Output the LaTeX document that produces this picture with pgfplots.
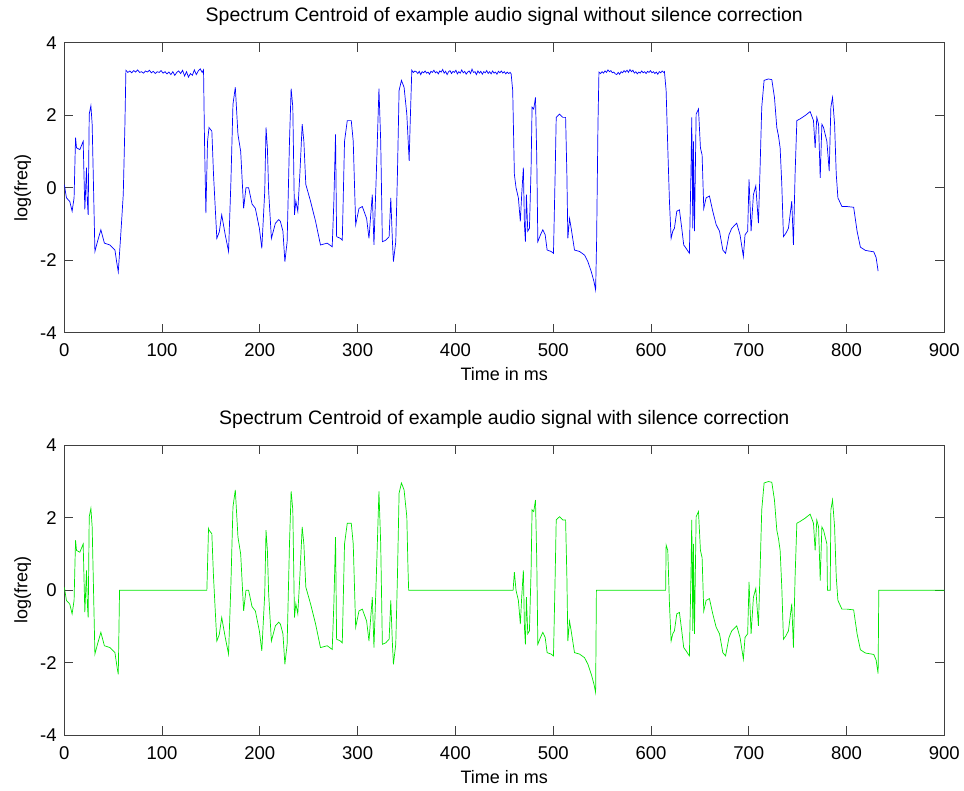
\documentclass[border=0pt]{standalone}
\usepackage{fontspec}
\setmainfont{Liberation Sans}
\usepackage{pgfplots}
\usepackage{pgfplotstable}
\pgfplotsset{compat=1.18}

\pgfplotstableread{
x y
0 0.09
2.2 -0.28
5.6 -0.38
8 -0.65
10 -0.28
11.5 1.38
12.5 1.1
15.9 1.05
19.3 1.28
21 -0.6
22.7 0.55
23.4 -0.28
24.4 -0.75
25.5 2.03
27.2 2.26
28.5 1.75
31.3 -1.76
34 -1.48
37.4 -1.16
41 -1.53
46.7 -1.58
51.8 -1.72
53.5 -2.04
55.2 -2.32
57.3 -1.48
58.6 -0.93
60.3 -0.19
62 1.75
63 3.24
65 3.18
67 3.22
69 3.17
71 3.23
73 3.19
75 3.25
77 3.18
79 3.2
81 3.16
83 3.22
85 3.19
87 3.24
89 3.17
91 3.21
93 3.15
95 3.2
97 3.18
99 3.23
101 3.16
103 3.2
105 3.14
107 3.19
109 3.12
111 3.2
113 3.1
115 3.18
117 3.22
119 3.15
121 3.24
123 3.08
125 3.2
127 3.05
129 3.15
131 3.1
133 3.25
135 3.12
137 3.22
139 3.28
141 3.18
142.4 3.25
143.4 1.28
144.8 -0.7
146.5 1.28
148 1.66
150.9 1.56
152.6 0.37
156 -1.4
158.5 -1.22
161 -0.75
164.6 -1.3
168 -1.76
170.4 0.17
172.5 2.3
174.9 2.77
177.6 1.47
180.4 1.0
183.4 -0.57
185.8 0
188.5 0
192 -0.45
195.4 -0.57
199.5 -1.12
202 -1.67
205 -0.1
206.3 1.66
207.7 1.1
209 -0.1
211.8 -1.4
215.9 -0.98
219.3 -0.88
221 -0.93
223.6 -1.2
225.6 -2.04
227.9 -1.49
230.3 1.28
232 2.73
233.7 2.22
235.4 -0.75
236.8 -0.37
238.8 -0.65
240.9 0.37
243.3 1.75
245 1.28
247 0.09
251.8 -0.37
257 -0.93
262 -1.58
268.9 -1.53
274 -1.63
275.7 -0.37
277.4 1.47
278.5 -1.35
282.5 -1.4
284.3 -1.45
286.6 1.28
289.4 1.85
293.5 1.85
295.5 1.28
298 -1.02
301.4 -0.57
304.8 -0.52
309.2 -0.85
311.6 -1.4
313.4 -0.75
315 -0.19
316.7 -1.58
319.1 0.37
321.8 2.73
323.6 1.28
325.3 -1.49
328.7 -1.45
332.2 -1.35
333.9 -0.28
335.6 -1.49
336.6 -2.04
339 -1.49
340.7 0.37
342.4 2.68
344.8 2.96
347.5 2.77
350.3 2.03
352.7 0.74
353.7 1.75
355.4 3.24
357 3.18
358.5 3.22
360 3.2
361.5 3.15
363 3.21
364.5 3.12
366 3.2
367.5 3.17
369 3.22
370.5 3.16
372 3.19
373.5 3.13
375 3.21
376.5 3.18
378 3.24
379.5 3.17
381 3.2
382.5 3.14
384 3.22
385.5 3.19
387 3.26
388.5 3.16
390 3.21
391.5 3.12
393 3.2
394.5 3.23
396 3.15
397.5 3.21
399 3.18
400.5 3.24
402 3.14
403.5 3.2
405 3.16
406.5 3.25
408 3.17
409.5 3.21
411 3.13
412.5 3.19
414 3.22
415.5 3.15
417 3.27
418.5 3.18
420 3.2
421.5 3.12
423 3.22
424.5 3.16
426 3.21
427.5 3.13
429 3.2
430.5 3.17
432 3.23
433.5 3.15
435 3.2
436.5 3.14
438 3.22
439.5 3.16
441 3.19
442.5 3.13
444 3.21
445.5 3.17
447 3.22
448.5 3.16
450 3.2
451.5 3.14
453 3.19
454.5 3.15
456 3.18
457 3.14
458.6 2.68
460.3 0.37
462 0
464.4 -0.28
466.4 -0.93
467.8 -0.19
469.5 0.55
470.6 -1.02
471.6 -1.49
472.6 -0.19
474 -1.2
475.7 -1.12
477.4 0.55
478.4 2.22
480.1 2.17
481.9 2.49
483.2 0.83
484.3 -1.49
487 -1.3
489.4 -1.16
491.8 -1.3
493.8 -1.72
497.9 -1.76
500.3 -1.81
502 0.37
503.1 1.94
506.5 2.03
509.9 1.94
512.7 1.94
514 0.37
515 -1.4
516.7 -0.85
518.4 -1.12
521.8 -1.72
527 -1.76
532.1 -1.86
535.5 -2.04
539 -2.32
541.7 -2.59
543.4 -2.82
544.4 -1.49
545.8 1.75
546.8 3.19
548.5 3.15
550 3.2
551.5 3.16
553 3.22
554.5 3.18
556 3.25
557.5 3.2
559 3.23
560.5 3.17
562 3.19
563.5 3.14
565 3.12
566.5 3.18
568 3.13
569.5 3.2
571 3.17
572.5 3.23
574 3.19
575.5 3.24
577 3.18
578.5 3.26
580 3.2
581.5 3.24
583 3.16
584.5 3.2
586 3.14
587.5 3.19
589 3.16
590.5 3.22
592 3.17
593.5 3.2
595 3.15
596.5 3.21
598 3.18
599.5 3.23
601 3.17
602.5 3.2
604 3.15
605.5 3.19
607 3.13
608.5 3.2
610 3.17
611.5 3.22
613 3.18
613.8 3.2
615.5 2.68
617.2 1.1
618.9 -0.37
620.6 -1.4
622.3 -1.2
624 -1.12
626.4 -0.65
629.1 -0.61
631.5 -1.12
633.5 -1.58
635.9 -1.67
639.3 -1.81
641 0.55
641.7 1.94
642.8 -1.12
643.4 1.28
644.5 -1.2
646.2 2.03
648.6 2.17
650.6 1.1
652.3 0.9
654 -0.57
656.4 -0.28
659.8 -0.23
663.2 -0.65
666.7 -1.02
670.1 -1.2
673.5 -1.72
676.3 -1.81
679.8 -1.3
682.6 -1.12
687.7 -0.98
691.1 -1.3
694.5 -1.9
696.2 -1.3
698.9 -1.2
700.3 0.23
702.4 -1.2
704.8 -0.19
707.2 0.05
709.9 -0.98
711.6 0.55
713.3 2.22
715.7 2.96
720.1 3.0
723.6 2.98
726.3 2.49
728.7 1.66
730.4 1.43
732.1 1.1
733.8 0.09
735.5 -1.35
737.9 -1.26
740.6 -1.12
744 -0.37
745.7 -1.58
747.4 0.37
749.2 1.85
752.6 1.9
757.7 1.99
762.8 2.1
766.2 1.85
767.9 1.1
769.6 1.94
771.4 1.75
773.1 0.27
774.8 1.75
776.5 1.66
779.9 1.28
782.3 0.46
784 2.22
785.7 2.49
787.8 1.75
789.5 0.37
791.2 -0.28
795.3 -0.52
800.5 -0.52
807.3 -0.54
810.8 -1.2
814.2 -1.64
819.3 -1.73
827.9 -1.77
830.3 -1.93
832.3 -2.3
}\topdata

\pgfplotstableread{
x y
0 0.09
2.2 -0.28
5.6 -0.38
8 -0.65
10 -0.28
11.5 1.38
12.5 1.1
15.9 1.05
19.3 1.28
21 -0.6
22.7 0.55
23.4 -0.28
24.4 -0.75
25.5 2.03
27.2 2.26
28.5 1.75
31.3 -1.76
34 -1.48
37.4 -1.16
41 -1.53
46.7 -1.58
51.8 -1.72
53.5 -2.04
55.2 -2.32
56.5 0
145.8 0
147.5 1.7
148 1.66
150.9 1.56
152.6 0.37
156 -1.4
158.5 -1.22
161 -0.75
164.6 -1.3
168 -1.76
170.4 0.17
172.5 2.3
174.9 2.77
177.6 1.47
180.4 1.0
183.4 -0.57
185.8 0
188.5 0
192 -0.45
195.4 -0.57
199.5 -1.12
202 -1.67
205 -0.1
206.3 1.66
207.7 1.1
209 -0.1
211.8 -1.4
215.9 -0.98
219.3 -0.88
221 -0.93
223.6 -1.2
225.6 -2.04
227.9 -1.49
230.3 1.28
232 2.73
233.7 2.22
235.4 -0.75
236.8 -0.37
238.8 -0.65
240.9 0.37
243.3 1.75
245 1.28
247 0.09
251.8 -0.37
257 -0.93
262 -1.58
268.9 -1.53
274 -1.63
275.7 -0.37
277.4 1.47
278.5 -1.35
282.5 -1.4
284.3 -1.45
286.6 1.28
289.4 1.85
293.5 1.85
295.5 1.28
298 -1.02
301.4 -0.57
304.8 -0.52
309.2 -0.85
311.6 -1.4
313.4 -0.75
315 -0.19
316.7 -1.58
319.1 0.37
321.8 2.73
323.6 1.28
325.3 -1.49
328.7 -1.45
332.2 -1.35
333.9 -0.28
335.6 -1.49
336.6 -2.04
339 -1.49
340.7 0.37
342.4 2.68
344.8 2.96
347.5 2.77
350.3 2.03
351.5 0.6
352.2 0
459 0
460.3 0.5
462 0
464.4 -0.28
466.4 -0.93
467.8 -0.19
469.5 0.55
470.6 -1.02
471.6 -1.49
472.6 -0.19
474 -1.2
475.7 -1.12
477.4 0.55
478.4 2.22
480.1 2.17
481.9 2.49
483.2 0.83
484.3 -1.49
487 -1.3
489.4 -1.16
491.8 -1.3
493.8 -1.72
497.9 -1.76
500.3 -1.81
502 0.37
503.1 1.94
506.5 2.03
509.9 1.94
512.7 1.94
514 0.37
515 -1.4
516.7 -0.85
518.4 -1.12
521.8 -1.72
527 -1.76
532.1 -1.86
535.5 -2.04
539 -2.32
541.7 -2.59
543.4 -2.82
544.2 0
615 0
615.5 1.25
617.2 1.1
618.9 -0.37
620.6 -1.4
622.3 -1.2
624 -1.12
626.4 -0.65
629.1 -0.61
631.5 -1.12
633.5 -1.58
635.9 -1.67
639.3 -1.81
641 0.55
641.7 1.94
642.8 -1.12
643.4 1.28
644.5 -1.2
646.2 2.03
648.6 2.17
650.6 1.1
652.3 0.9
654 -0.57
656.4 -0.28
659.8 -0.23
663.2 -0.65
666.7 -1.02
670.1 -1.2
673.5 -1.72
676.3 -1.81
679.8 -1.3
682.6 -1.12
687.7 -0.98
691.1 -1.3
694.5 -1.9
696.2 -1.3
698.9 -1.2
700.3 0.23
702.4 -1.2
704.8 -0.19
707.2 0.05
709.9 -0.98
711.6 0.55
713.3 2.22
715.7 2.96
720.1 3.0
723.6 2.98
726.3 2.49
728.7 1.66
730.4 1.43
732.1 1.1
733.8 0.09
735.5 -1.35
737.9 -1.26
740.6 -1.12
744 -0.37
745.7 -1.58
747.4 0.37
749.2 1.85
752.6 1.9
757.7 1.99
762.8 2.1
766.2 1.85
767.9 1.1
769.6 1.94
771.4 1.75
773.1 0.27
774.8 1.75
776.5 1.66
779.9 1.28
780.5 0
783.3 0
784 2.22
785.7 2.49
787.8 1.75
789.5 0.37
791.2 -0.28
795.3 -0.52
800.5 -0.52
807.3 -0.54
810.8 -1.2
814.2 -1.64
819.3 -1.73
827.9 -1.77
830.3 -1.93
832.3 -2.3
833 0
900 0
}\botdata

\pgfplotsset{
  mlab/.style={
    scale only axis, width=880pt, height=290pt,
    xmin=0, xmax=900, ymin=-4, ymax=4,
    xtick={0,100,...,900}, ytick={-4,-2,0,2,4},
    tick align=inside, major tick length=9pt,
    axis line style={black!75, line width=0.8pt},
    every tick/.style={black!75, line width=0.8pt},
    tick label style={font=\fontsize{18.5}{20}\selectfont},
    /pgf/number format/assume math mode=true,
    xticklabel style={anchor=north, inner sep=0pt, yshift=-11pt},
    yticklabel style={anchor=east, inner sep=0pt, xshift=-7.5pt},
    title style={at={([yshift=15pt]axis description cs:0.5,1)}, anchor=base, inner sep=0pt, font=\fontsize{19.5}{22}\selectfont},
    xlabel style={at={([yshift=-48pt]axis description cs:0.5,0)}, anchor=base, inner sep=0pt, font=\fontsize{18}{20}\selectfont},
    ylabel style={at={([xshift=-37pt]axis description cs:0,0.5)}, anchor=base, inner sep=0pt, font=\fontsize{18}{20}\selectfont},
    xlabel={Time in ms}, ylabel={log(freq)},
  }
}

\begin{document}
\begin{tikzpicture}[x=1pt,y=1pt]
\path[use as bounding box] (0,0) rectangle (964,791);
\begin{axis}[mlab, at={(64.3pt,458.3pt)}, anchor=south west,
  title={Spectrum Centroid of example audio signal without silence correction}]
\addplot[blue, line width=0.7pt] table[x=x,y=y] {\topdata};
\end{axis}
\begin{axis}[mlab, at={(64.3pt,55.7pt)}, anchor=south west,
  title={Spectrum Centroid of example audio signal with silence correction}]
\addplot[color={rgb,255:red,0;green,230;blue,0}, line width=0.7pt] table[x=x,y=y] {\botdata};
\end{axis}
\end{tikzpicture}
\end{document}
